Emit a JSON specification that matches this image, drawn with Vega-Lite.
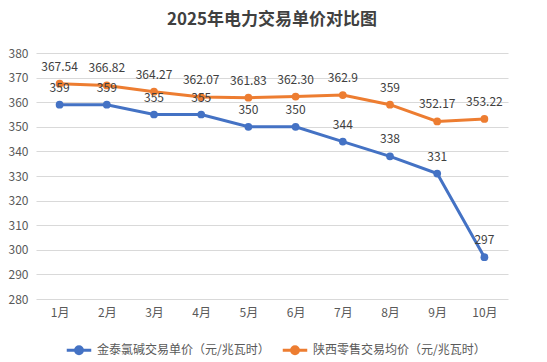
{
  "$schema": "https://vega.github.io/schema/vega-lite/v6.json",
  "autosize": "none",
  "width": 472,
  "height": 246,
  "padding": {"left": 36, "top": 53, "right": 39, "bottom": 63},
  "background": "white",
  "view": {"stroke": null},
  "title": {"text": "2025年电力交易单价对比图", "fontSize": 17, "font": "Noto Sans CJK SC", "fontWeight": "bold", "color": "#404040", "offset": 18, "anchor": "middle"},
  "config": {
    "view": {"stroke": null},
    "axisX": {"grid": false},
    "axisY": {"domain": false},
    "font": "Noto Sans CJK SC"
  },
  "data": {"values": [
    {"month": "1月", "series": "金泰氯碱交易单价（元/兆瓦时）", "value": 359, "label": "359"},
    {"month": "2月", "series": "金泰氯碱交易单价（元/兆瓦时）", "value": 359, "label": "359"},
    {"month": "3月", "series": "金泰氯碱交易单价（元/兆瓦时）", "value": 355, "label": "355"},
    {"month": "4月", "series": "金泰氯碱交易单价（元/兆瓦时）", "value": 355, "label": "355"},
    {"month": "5月", "series": "金泰氯碱交易单价（元/兆瓦时）", "value": 350, "label": "350"},
    {"month": "6月", "series": "金泰氯碱交易单价（元/兆瓦时）", "value": 350, "label": "350"},
    {"month": "7月", "series": "金泰氯碱交易单价（元/兆瓦时）", "value": 344, "label": "344"},
    {"month": "8月", "series": "金泰氯碱交易单价（元/兆瓦时）", "value": 338, "label": "338"},
    {"month": "9月", "series": "金泰氯碱交易单价（元/兆瓦时）", "value": 331, "label": "331"},
    {"month": "10月", "series": "金泰氯碱交易单价（元/兆瓦时）", "value": 297, "label": "297"},
    {"month": "1月", "series": "陕西零售交易均价（元/兆瓦时）", "value": 367.54, "label": "367.54"},
    {"month": "2月", "series": "陕西零售交易均价（元/兆瓦时）", "value": 366.82, "label": "366.82"},
    {"month": "3月", "series": "陕西零售交易均价（元/兆瓦时）", "value": 364.27, "label": "364.27"},
    {"month": "4月", "series": "陕西零售交易均价（元/兆瓦时）", "value": 362.07, "label": "362.07"},
    {"month": "5月", "series": "陕西零售交易均价（元/兆瓦时）", "value": 361.83, "label": "361.83"},
    {"month": "6月", "series": "陕西零售交易均价（元/兆瓦时）", "value": 362.30, "label": "362.30"},
    {"month": "7月", "series": "陕西零售交易均价（元/兆瓦时）", "value": 362.9, "label": "362.9"},
    {"month": "8月", "series": "陕西零售交易均价（元/兆瓦时）", "value": 359, "label": "359"},
    {"month": "9月", "series": "陕西零售交易均价（元/兆瓦时）", "value": 352.17, "label": "352.17"},
    {"month": "10月", "series": "陕西零售交易均价（元/兆瓦时）", "value": 353.22, "label": "353.22"}
  ]},
  "encoding": {
    "x": {"field": "month", "type": "ordinal", "sort": null,
      "scale": {"padding": 0.5},
      "axis": {"title": null, "labelAngle": 0, "ticks": false, "grid": false, "domain": false, "labelColor": "#595959", "labelFontSize": 12, "labelPadding": 8}},
    "y": {"field": "value", "type": "quantitative",
      "scale": {"domain": [280, 380], "nice": false, "zero": false},
      "axis": {"title": null, "values": [280, 290, 300, 310, 320, 330, 340, 350, 360, 370, 380], "domain": false, "ticks": false, "gridColor": "#D9D9D9", "labelColor": "#595959", "labelFontSize": 12, "labelPadding": 8}},
    "color": {"field": "series", "type": "nominal", "sort": null,
      "scale": {"range": ["#4472C4", "#ED7D31"]},
      "legend": {"title": null, "orient": "none", "legendX": 29, "legendY": 283, "direction": "horizontal", "labelFontSize": 12, "labelColor": "#595959", "symbolType": "M -1 0 L 1 0 M 0.28 0 A 0.28 0.28 0 1 1 -0.28 0 A 0.28 0.28 0 1 1 0.28 0", "symbolSize": 600, "symbolStrokeWidth": 3, "columnPadding": 6, "labelOffset": 4, "labelLimit": 300}}
  },
  "layer": [
    {"mark": {"type": "line", "strokeWidth": 3, "point": {"filled": true, "size": 60}}},
    {"mark": {"type": "text", "dy": -17, "fontSize": 12, "color": "#404040"},
      "encoding": {"text": {"field": "label", "type": "nominal"}, "color": {"value": "#404040"}}}
  ]
}
